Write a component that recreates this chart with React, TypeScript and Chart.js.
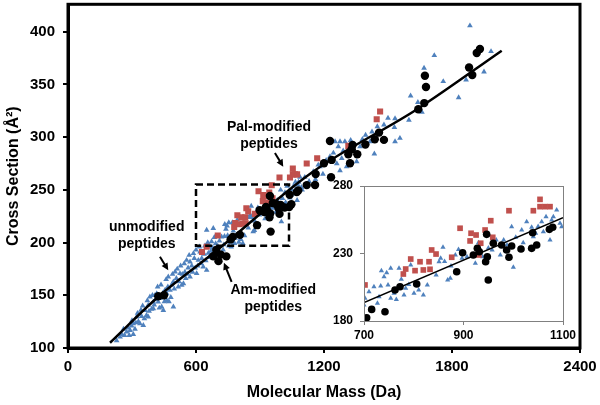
import React, { useEffect, useRef } from 'react';
import { Chart, registerables } from 'chart.js';

Chart.register(...registerables);

const FONT = '"Liberation Sans", Arial, Helvetica, sans-serif';

// ---------- axis ticks ----------
const xTicks = [0, 600, 1200, 1800, 2400];
const yTicks = [100, 150, 200, 250, 300, 350, 400];
const insetXTicks = [700, 900, 1100];
const insetYTicks = [180, 230, 280];

// ---------- series: [molecular mass (Da), cross section (Å²)] ----------
const unmodifiedPeptides: [number, number][] = [
  [228, 107], [244, 110.5], [252, 113], [260, 118], [265, 112], [275, 115.2], [283, 119], [287, 112],
  [291, 116.8], [298, 121], [300, 126], [306, 123.2], [306, 113], [314, 118], [318, 124], [322, 129.5],
  [326, 133], [330, 125], [337, 123.2], [342, 136], [345, 130], [350, 140], [353, 121.6], [358, 128],
  [361, 135.8], [368, 131], [372, 145], [376, 129.5], [376, 140.6], [380, 135], [384, 148.5], [392, 137],
  [396, 150], [400, 137.4], [400, 143.7], [404, 141], [408, 150], [412, 146], [416, 151.7], [420, 158],
  [423, 143.7], [428, 138], [431, 147], [436, 160], [439, 139], [444, 152], [447, 135.8], [452, 144],
  [455, 155], [460, 165], [463, 145.3], [463, 151.7], [468, 158], [470, 167.5], [473, 144], [478, 154.8],
  [482, 148], [486, 160], [490, 170], [494, 162.7], [494, 139], [498, 156], [502, 172.2], [508, 166],
  [512, 175], [517, 158], [520, 163], [525, 170.7], [528, 178], [533, 159.6], [536, 170], [541, 161.2],
  [545, 180], [548, 172], [552, 166], [556, 183.3], [560, 170], [563, 176], [568, 188], [572, 167.5],
  [572, 181.7], [580, 178], [584, 172], [588, 189.7], [592, 185], [596, 176], [600, 193], [603, 170.7],
  [608, 178], [611, 183.3], [616, 196], [619, 191.2], [624, 180], [627, 185], [634, 177], [638, 189],
  [642, 197], [646, 183], [650, 173.8], [650, 211.9], [655, 200], [658, 190], [662, 186], [666, 196],
  [670, 192], [673, 201], [678, 195], [681, 213.5], [686, 205], [690, 186], [692, 199],
  [702, 196.8], [700, 191.9], [710, 201.7], [720, 205.4], [727, 193.1], [730.3, 198], [733.6, 205.9],
  [735, 217.3], [740.3, 212.8], [745.6, 215.8], [748.3, 206.7], [753.7, 219], [753.7, 196.8], [760.4, 200.5],
  [765, 196], [770.4, 219], [775, 211], [780.4, 199.3], [783.8, 204.2], [790, 207], [793.9, 221.5],
  [800.5, 200.5], [810, 203], [819.3, 199.3], [827.3, 206.7], [845, 214], [850.8, 223.9], [854.1, 226.4],
  [858.8, 234.6], [862, 224], [868.2, 210.4], [873.5, 211.6], [874.9, 220.7], [883.6, 228.9], [890, 233],
  [897.1, 226.4], [907, 227.6], [917.2, 228.9], [923.8, 222.7], [930, 238], [938.5, 227.6], [950, 234],
  [957.5, 232.6], [965.9, 240], [974, 228.9], [980.7, 240], [987.4, 236.3], [996.8, 249.9], [1000.2, 219.8],
  [1005, 242], [1017, 247.4], [1020, 238], [1027, 253.6], [1037, 249.4], [1040.4, 242.5], [1045.1, 245],
  [1050, 250], [1057.2, 253.6], [1060.5, 246.1], [1065.9, 257.3], [1073.9, 240], [1077.3, 254.8],
  [1080.6, 257.3], [1087.3, 262.2], [1094, 252.4], [1097.4, 249.9],
  [1110, 262], [1130, 258], [1150, 267.3], [1160, 260], [1173, 273.6], [1181, 272], [1195, 265], [1210, 278],
  [1228, 281.5], [1244, 285], [1252, 295.8], [1260, 275], [1267, 291], [1275, 295.8], [1275, 268.2],
  [1283, 280], [1290, 287], [1298, 295.8], [1306, 272], [1315, 283], [1325, 297], [1340, 288], [1353, 276.8],
  [1369, 291], [1380, 298], [1395, 302], [1416, 295.8], [1425, 305], [1436, 284.1], [1450, 310],
  [1481, 311.6], [1500, 318], [1530, 309.4], [1533, 317.6], [1533, 295.8], [1556, 299], [1598, 316.1],
  [1606, 339.2], [1640, 333], [1659, 323.7], [1669, 365.5], [1717, 377.5], [1759, 352.8], [1831, 337.6],
  [1866, 354.4], [1884, 405.7], [1950, 362], [1983, 381.3],
];

const palModifiedPeptides: [number, number][] = [
  [628, 191], [650, 196], [702, 206.7], [779.1, 214.8], [783.8, 218.5], [793.9, 225.9], [802.6, 217.3],
  [812.6, 223.9], [819.3, 217.8], [830.7, 223.9], [832.7, 218.3], [836, 232.6], [844.8, 229.6],
  [876.3, 227.2], [893.1, 248.7], [913.2, 239.3], [915.2, 245], [925.3, 243.7], [931, 228.9],
  [934.6, 237.6], [943.4, 247.4], [954.8, 254.3], [958.8, 242], [991.4, 261.7], [1040.4, 261.7],
  [1053.8, 270.1], [1053.8, 264.7], [1063.9, 264.7], [1073.9, 264.7], [1119, 275], [1168, 280],
  [1314, 291.7], [1447, 317], [1463, 324.3],
];

const amModifiedPeptides: [number, number][] = [
  [423, 149.1], [450, 150.1], [681, 187], [695, 193], [705.4, 182.4], [715.4, 188.6], [742.2, 186.9],
  [762.3, 203], [772.4, 205.4], [805.9, 207.4], [886.3, 216.5], [898.3, 230.6], [919.8, 228.9],
  [927.8, 233.8], [931.8, 231.3], [944.5, 223.9], [946.5, 244.2], [947.9, 227.6], [949.8, 210.4],
  [959.9, 237.6], [976.6, 236.3], [986.7, 232.6], [991.4, 227.2], [996.8, 235.6], [1015.6, 233.3],
  [1037, 233.8], [1039, 245.4], [1047.1, 236.3], [1072.6, 247.9], [1079.3, 249.4], [1119, 254.5],
  [1158, 254.6], [1161, 265], [1200, 275.2], [1233, 262], [1236, 278.4], [1228, 296.4], [1314, 283.8],
  [1322, 275.2], [1330, 288.5], [1334, 292.6], [1356, 283.8], [1394, 293], [1438, 298], [1458, 304.3],
  [1481, 297.4], [1642, 326.5], [1670, 332.3], [1678, 347.5], [1673, 358.2], [1880, 366], [1895, 358.9],
  [1916, 379.8], [1931, 383.6],
];

// fitted trend lines
const fitMass = [197, 431, 700, 1140, 1640, 2033];
const fitCCS = [105, 150, 193, 266, 327, 382];
const insetFitMass = [700, 1100];
const insetFitCCS = [193.6, 256.5];

// annotations (text)
const annotationTexts = [
  ['Pal-modified', 'peptides'],
  ['unmodified', 'peptides'],
  ['Am-modified', 'peptides'],
];
const annotationAnchors = [
  [942, 309.4],
  [369, 215],
  [962, 154.8],
];
const arrowTails = [[970, 285], [431, 186.5], [767, 162.7]];
const arrowHeads = [[1009, 272], [470, 173.8], [731, 180.8]];
const zoomBoxMass = [600, 1036];
const zoomBoxCCS = [197, 255];

const BLUE = '#4F81BD';
const RED = '#C0504D';

const toXY = (pts: [number, number][]) => pts.map(([x, y]) => ({ x, y }));
const inInset = (pts: [number, number][]) =>
  pts.filter(([x, y]) => x >= 700 && x <= 1100 && y >= 180 && y <= 280);
const plain = (v: any) => String(v);

function drawArrow(ctx: CanvasRenderingContext2D, x1: number, y1: number, x2: number, y2: number) {
  const ang = Math.atan2(y2 - y1, x2 - x1);
  const hl = 7;
  const hw = 3.5;
  ctx.save();
  ctx.strokeStyle = '#000';
  ctx.fillStyle = '#000';
  ctx.lineWidth = 2;
  ctx.beginPath();
  ctx.moveTo(x1, y1);
  ctx.lineTo(x2 - Math.cos(ang) * hl * 0.8, y2 - Math.sin(ang) * hl * 0.8);
  ctx.stroke();
  ctx.beginPath();
  ctx.moveTo(x2, y2);
  ctx.lineTo(x2 - Math.cos(ang) * hl - Math.sin(ang) * hw, y2 - Math.sin(ang) * hl + Math.cos(ang) * hw);
  ctx.lineTo(x2 - Math.cos(ang) * hl + Math.sin(ang) * hw, y2 - Math.sin(ang) * hl - Math.cos(ang) * hw);
  ctx.closePath();
  ctx.fill();
  ctx.restore();
}

const mainDecor = {
  id: 'mainDecor',
  afterDatasetsDraw(chart: any) {
    const { ctx, scales } = chart;
    const xs = scales.x;
    const ys = scales.y;
    ctx.save();
    ctx.strokeStyle = '#000';
    ctx.lineWidth = 2.5;
    ctx.setLineDash([7, 4]);
    const bx0 = xs.getPixelForValue(zoomBoxMass[0]);
    const bx1 = xs.getPixelForValue(zoomBoxMass[1]);
    const by0 = ys.getPixelForValue(zoomBoxCCS[1]);
    const by1 = ys.getPixelForValue(zoomBoxCCS[0]);
    ctx.strokeRect(bx0, by0, bx1 - bx0, by1 - by0);
    ctx.restore();
    ctx.save();
    ctx.fillStyle = '#000';
    ctx.font = `bold 14px ${FONT}`;
    ctx.textAlign = 'center';
    ctx.textBaseline = 'middle';
    annotationTexts.forEach((lines, i) => {
      const px = xs.getPixelForValue(annotationAnchors[i][0]);
      const py = ys.getPixelForValue(annotationAnchors[i][1]);
      lines.forEach((t, j) => ctx.fillText(t, px, py + j * 17));
    });
    ctx.restore();
    arrowTails.forEach((t, i) => {
      drawArrow(
        ctx,
        xs.getPixelForValue(t[0]),
        ys.getPixelForValue(t[1]),
        xs.getPixelForValue(arrowHeads[i][0]),
        ys.getPixelForValue(arrowHeads[i][1])
      );
    });
  },
  afterDraw(chart: any) {
    const { ctx, chartArea } = chart;
    ctx.save();
    ctx.strokeStyle = '#000';
    ctx.lineWidth = 3;
    ctx.strokeRect(chartArea.left, chartArea.top, chartArea.right - chartArea.left, chartArea.bottom - chartArea.top);
    ctx.restore();
  },
};

const insetDecor = {
  id: 'insetDecor',
  beforeDraw(chart: any) {
    const { ctx, chartArea } = chart;
    ctx.save();
    ctx.fillStyle = '#fff';
    ctx.fillRect(chartArea.left, chartArea.top, chartArea.right - chartArea.left, chartArea.bottom - chartArea.top);
    ctx.restore();
  },
  afterDraw(chart: any) {
    const { ctx, chartArea } = chart;
    ctx.save();
    ctx.strokeStyle = '#808080';
    ctx.lineWidth = 1;
    ctx.strokeRect(
      Math.round(chartArea.left) + 0.5,
      Math.round(chartArea.top) + 0.5,
      Math.round(chartArea.right - chartArea.left),
      Math.round(chartArea.bottom - chartArea.top)
    );
    ctx.restore();
  },
};

const fixSize = (prop: 'width' | 'height', size: number) => (s: any) => {
  s[prop] = size;
  s.paddingTop = 0;
  s.paddingBottom = 0;
  s.paddingLeft = 0;
  s.paddingRight = 0;
};

export default function App() {
  const mainRef = useRef<HTMLCanvasElement>(null);
  const insetRef = useRef<HTMLCanvasElement>(null);

  useEffect(() => {
    const tickFont = { family: FONT, size: 15, weight: 'bold' as const };
    const titleFont = { family: FONT, size: 16, weight: 'bold' as const };
    const insetFont = { family: FONT, size: 12, weight: 'bold' as const };

    const main = new Chart(mainRef.current!, {
      type: 'scatter',
      data: {
        datasets: [
          {
            label: 'fit',
            data: fitMass.map((x, i) => ({ x, y: fitCCS[i] })),
            showLine: true,
            borderColor: '#000',
            borderWidth: 2.5,
            pointRadius: 0,
            cubicInterpolationMode: 'monotone',
          } as any,
          {
            label: 'Am-modified',
            data: toXY(amModifiedPeptides),
            pointStyle: 'circle',
            pointRadius: 4.2,
            backgroundColor: '#000',
            borderWidth: 0,
          },
          {
            label: 'Pal-modified',
            data: toXY(palModifiedPeptides),
            pointStyle: 'rect',
            pointRadius: 4.3,
            backgroundColor: RED,
            borderWidth: 0,
          },
          {
            label: 'unmodified',
            data: toXY(unmodifiedPeptides),
            pointStyle: 'triangle',
            pointRadius: 3.3,
            backgroundColor: BLUE,
            borderWidth: 0,
          },
        ],
      },
      options: {
        animation: false,
        responsive: false,
        maintainAspectRatio: false,
        events: [],
        layout: { padding: { top: 4, right: 20, left: 0, bottom: 0 } },
        plugins: { legend: { display: false }, tooltip: { enabled: false } },
        scales: {
          x: {
            type: 'linear',
            min: 0,
            max: 2400,
            afterBuildTicks: (s: any) => {
              s.ticks = xTicks.map((v) => ({ value: v }));
            },
            afterFit: fixSize('height', 57),
            ticks: { font: tickFont, color: '#000', padding: 5, maxRotation: 0, callback: plain },
            grid: { drawOnChartArea: false, drawTicks: true, tickLength: 5, color: '#000', lineWidth: 2 },
            border: { display: true, color: '#000', width: 3 },
            title: {
              display: true,
              text: 'Molecular Mass (Da)',
              font: titleFont,
              color: '#000',
              padding: { top: 0, bottom: 3 },
            },
          },
          y: {
            type: 'linear',
            min: 100,
            max: 426,
            afterBuildTicks: (s: any) => {
              s.ticks = yTicks.map((v) => ({ value: v }));
            },
            afterFit: fixSize('width', 68),
            ticks: { font: tickFont, color: '#000', padding: 8, callback: plain },
            grid: { drawOnChartArea: false, drawTicks: true, tickLength: 5, color: '#000', lineWidth: 2 },
            border: { display: true, color: '#000', width: 3 },
            title: {
              display: true,
              text: 'Cross Section (Å²)',
              font: titleFont,
              color: '#000',
              padding: { top: 4, bottom: 0 },
            },
          },
        },
      } as any,
      plugins: [mainDecor],
    });

    const inset = new Chart(insetRef.current!, {
      type: 'scatter',
      data: {
        datasets: [
          {
            label: 'fit',
            data: insetFitMass.map((x, i) => ({ x, y: insetFitCCS[i] })),
            showLine: true,
            borderColor: '#000',
            borderWidth: 1.5,
            pointRadius: 0,
          } as any,
          {
            label: 'Am-modified',
            data: toXY(inInset(amModifiedPeptides)),
            pointStyle: 'circle',
            pointRadius: 3.8,
            backgroundColor: '#000',
            borderWidth: 0,
          },
          {
            label: 'Pal-modified',
            data: toXY(inInset(palModifiedPeptides)),
            pointStyle: 'rect',
            pointRadius: 4,
            backgroundColor: RED,
            borderWidth: 0,
          },
          {
            label: 'unmodified',
            data: toXY(inInset(unmodifiedPeptides)),
            pointStyle: 'triangle',
            pointRadius: 3,
            backgroundColor: BLUE,
            borderWidth: 0,
          },
        ],
      },
      options: {
        animation: false,
        responsive: false,
        maintainAspectRatio: false,
        events: [],
        layout: { padding: { top: 10, right: 17, left: 0, bottom: 0 } },
        plugins: { legend: { display: false }, tooltip: { enabled: false } },
        scales: {
          x: {
            type: 'linear',
            min: 700,
            max: 1100,
            afterBuildTicks: (s: any) => {
              s.ticks = insetXTicks.map((v) => ({ value: v }));
            },
            afterFit: fixSize('height', 25),
            ticks: { font: insetFont, color: '#000', padding: 3, maxRotation: 0, callback: plain },
            grid: { drawOnChartArea: false, drawTicks: true, tickLength: 4, color: '#808080', lineWidth: 1 },
            border: { display: true, color: '#808080', width: 1 },
          },
          y: {
            type: 'linear',
            min: 180,
            max: 280,
            afterBuildTicks: (s: any) => {
              s.ticks = insetYTicks.map((v) => ({ value: v }));
            },
            afterFit: fixSize('width', 44),
            ticks: { font: insetFont, color: '#000', padding: 7, callback: plain },
            grid: { drawOnChartArea: false, drawTicks: true, tickLength: 4, color: '#808080', lineWidth: 1 },
            border: { display: true, color: '#808080', width: 1 },
          },
        },
      } as any,
      plugins: [insetDecor],
    });

    return () => {
      main.destroy();
      inset.destroy();
    };
  }, []);

  return (
    <div style={{ position: 'fixed', left: 0, top: 0, width: 600, height: 405, background: '#fff' }}>
      <canvas
        ref={mainRef}
        width={600}
        height={405}
        style={{ position: 'absolute', left: 0, top: 0, width: 600, height: 405 }}
      />
      <canvas
        ref={insetRef}
        width={260}
        height={170}
        style={{ position: 'absolute', left: 320, top: 176, width: 260, height: 170 }}
      />
    </div>
  );
}
